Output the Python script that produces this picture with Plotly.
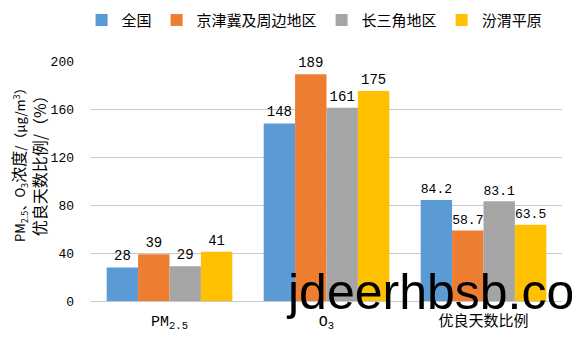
import plotly.graph_objects as go

# Categories and series values
categories = ["PM<sub>2.5</sub>", "O<sub>3</sub>", "优良天数比例"]
series_names = ["全国", "京津冀及周边地区", "长三角地区", "汾渭平原"]
national = [28, 148, 84.2]
jingjinji = [39, 189, 58.7]
yangtze_delta = [29, 161, 83.1]
fenwei_plain = [41, 175, 63.5]
colors = ["#5B9BD5", "#ED7D31", "#A5A5A5", "#FFC000"]
y_ticks = [0, 40, 80, 120, 160, 200]

num_font = "SimSun, Liberation Mono, Noto Sans CJK SC"
cjk_font = "Noto Sans CJK SC"

W, H = 572, 340
L, R, T, B = 91, 10, 61, 39
plot_w, plot_h = W - L - R, H - T - B

fig = go.Figure()
for name, vals, col in zip(series_names, [national, jingjinji, yangtze_delta, fenwei_plain], colors):
    fig.add_trace(go.Bar(
        name=name, x=categories, y=vals, marker_color=col, marker_line_width=0,
        text=[f"{v:g}" for v in vals], textposition="outside", cliponaxis=False,
        textfont=dict(family=num_font, size=14, color="#000000"),
    ))

fig.update_layout(
    width=W, height=H,
    margin=dict(l=L, r=R, t=T, b=B, autoexpand=False),
    paper_bgcolor="white", plot_bgcolor="white",
    barmode="group", bargap=0.2, bargroupgap=0,
    font=dict(family=cjk_font, color="#000000"),
    legend=dict(orientation="h", x=-0.02, xanchor="left", y=1.17, yanchor="middle",
                font=dict(family=cjk_font, size=15), itemwidth=30,
                traceorder="normal"),
    showlegend=True,
)
fig.update_xaxes(showline=False, ticks="", ticklabelstandoff=9,
                 tickfont=dict(family=num_font, size=15))
fig.update_yaxes(
    range=[0, 200], tickvals=y_ticks, showgrid=True, gridcolor="#C8C8C8", gridwidth=1,
    zeroline=True, zerolinecolor="#C8C8C8", zerolinewidth=1, ticks="",
    tickfont=dict(family=num_font, size=13), ticklabelstandoff=16,
)

# Two-line rotated y-axis title
y_title = ("<span style='font-size:13px'>PM<sub>2.5</sub>、O<sub>3</sub></span>浓度"
           "<span style='font-size:13px'>/（μg/m<sup>3</sup>）</span><br>优良天数比例/（%）")
fig.add_annotation(text=y_title, textangle=-90, xref="paper", yref="paper",
                   x=(28 - L) / plot_w, y=(H - B - 162) / plot_h,
                   xanchor="center", yanchor="middle", showarrow=False,
                   font=dict(family=cjk_font, size=16, color="#000000"))

# Site watermark overlaid on the lower right
fig.add_annotation(text="jdeerhbsb.com", xref="paper", yref="paper",
                   x=(284 - L) / plot_w, y=(H - B - 291.5) / plot_h,
                   xanchor="left", yanchor="middle", showarrow=False,
                   font=dict(family="Liberation Sans", size=50, color="#000000"))

fig.write_html("out.html")
